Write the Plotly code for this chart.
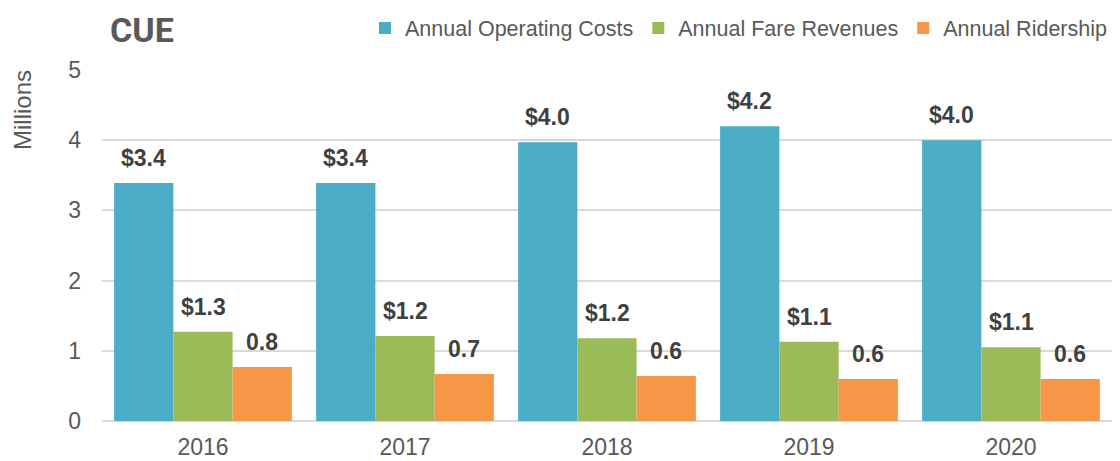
import plotly.graph_objects as go

years = ["2016", "2017", "2018", "2019", "2020"]
operating_costs = [3.39, 3.39, 3.97, 4.20, 4.00]
fare_revenues = [1.27, 1.21, 1.18, 1.13, 1.05]
ridership = [0.77, 0.67, 0.64, 0.60, 0.60]

series = [
    ("Annual Operating Costs", operating_costs, "#4BACC6", "$"),
    ("Annual Fare Revenues", fare_revenues, "#9BBB59", "$"),
    ("Annual Ridership", ridership, "#F79646", ""),
]

FONT = "Liberation Sans, Arial, sans-serif"
GRAY = "#595959"

fig = go.Figure()
for name, vals, color, prefix in series:
    fig.add_trace(go.Bar(
        name=name, x=years, y=vals,
        marker=dict(color=color, line=dict(width=0)),
    ))

bar_w = (1 - 0.12) / 3
annotations = []
for k, (name, vals, color, prefix) in enumerate(series):
    off = (k - 1) * bar_w
    for i, v in enumerate(vals):
        annotations.append(dict(
            x=i + off, y=v, xref="x", yref="y",
            text=f"{prefix}{v:.1f}", showarrow=False,
            yanchor="bottom", yshift=10,
            font=dict(family=FONT, size=23, color="#404040", weight="bold"),
        ))

annotations.append(dict(
    text="CUE", xref="paper", yref="paper", x=0.0, y=1.0,
    xanchor="left", yanchor="top", xshift=6, yshift=62, showarrow=False,
    font=dict(family="Roboto, sans-serif", size=34, color=GRAY, weight="bold"),
))
annotations.append(dict(
    text="Millions", xref="paper", yref="paper", x=0, y=1.0,
    xanchor="center", yanchor="middle", xshift=-80, yshift=-40, textangle=-90,
    showarrow=False, font=dict(family=FONT, size=24, color=GRAY),
))

fig.update_layout(
    width=1112, height=453,
    margin=dict(l=94, r=8, t=62, b=40),
    paper_bgcolor="white", plot_bgcolor="white",
    barmode="group", bargap=0.12, bargroupgap=0,
    font=dict(family=FONT, color=GRAY),
    showlegend=True,
    legend=dict(orientation="h", xref="paper", x=(365 - 102) / 1010, xanchor="left",
                yref="container", y=(453 - 20) / 453, yanchor="middle",
                font=dict(family=FONT, size=21.5, color=GRAY),
                itemwidth=30, tracegroupgap=0, bgcolor="rgba(0,0,0,0)"),
    annotations=annotations,
    xaxis=dict(type="category", showgrid=False, showline=False, ticks="",
               ticklabelstandoff=10, automargin=False,
               tickfont=dict(family=FONT, size=23, color=GRAY)),
    yaxis=dict(range=[0, 5], dtick=1, showgrid=True, gridcolor="#D9D9D9",
               gridwidth=1.5, zeroline=True, zerolinecolor="#D9D9D9",
               zerolinewidth=2, showline=False, ticks="", ticklabelstandoff=20,
               automargin=False,
               tickfont=dict(family=FONT, size=23, color=GRAY)),
)

fig.write_html("out.html")
